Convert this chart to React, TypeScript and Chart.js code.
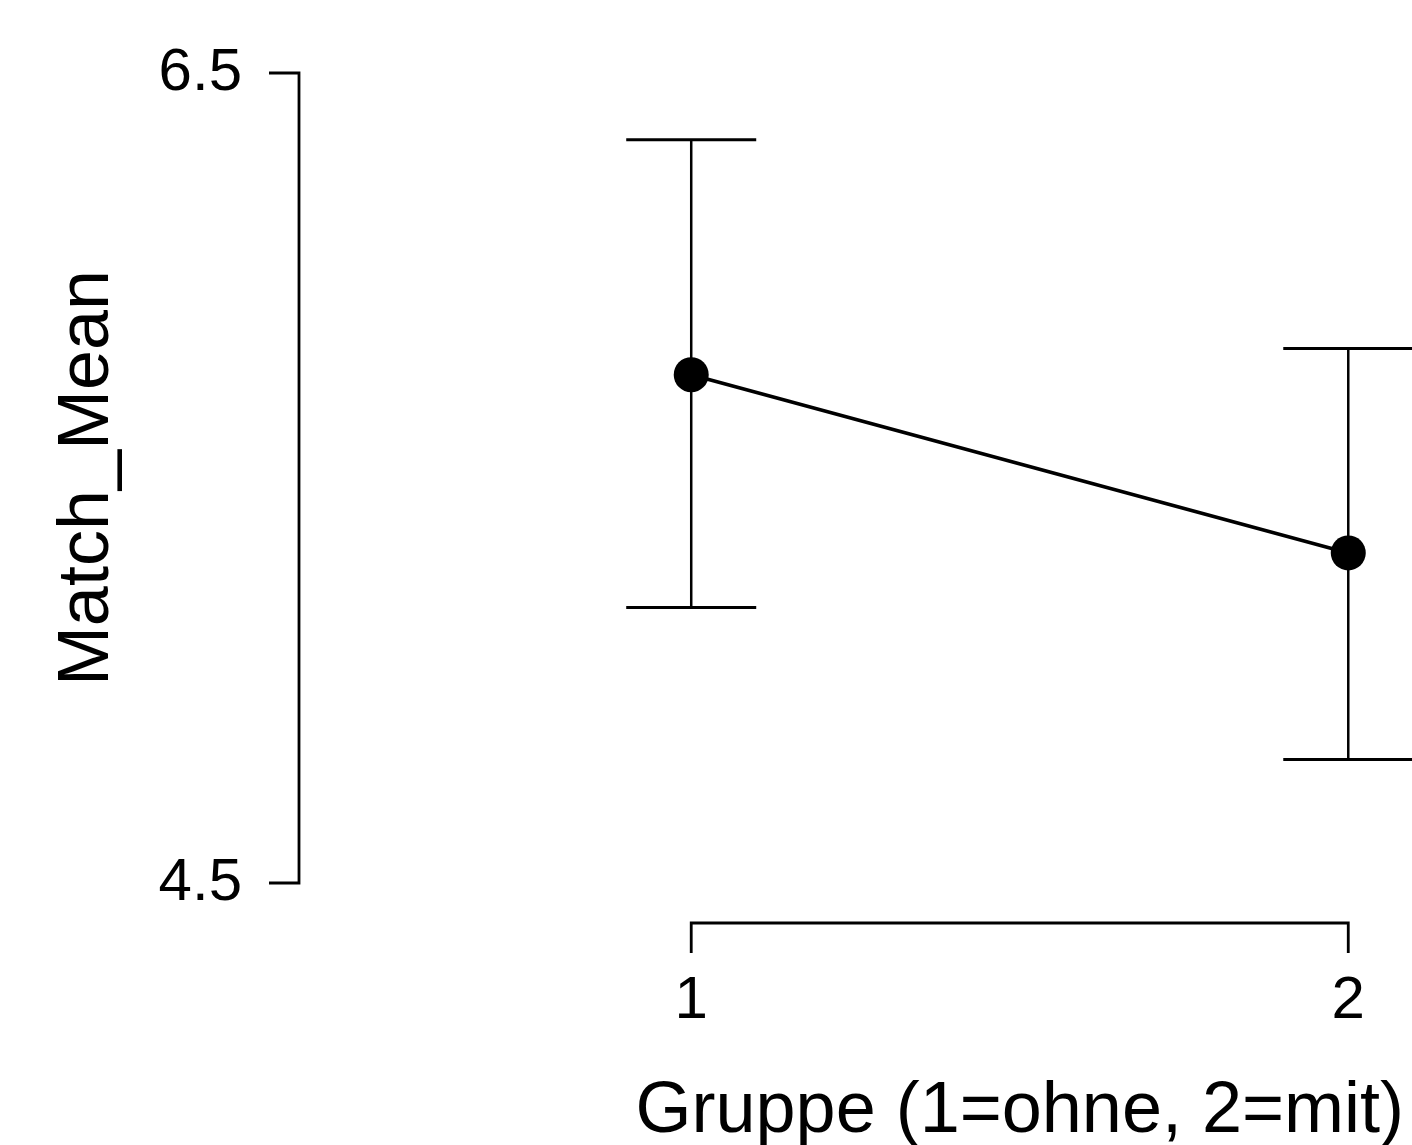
import React, { useEffect, useRef } from "react";
import { Chart, registerables } from "chart.js";

Chart.register(...registerables);

const groups = [1, 2];
const means = [5.755, 5.315];
const upper = [6.335, 5.82];
const lower = [5.18, 4.805];
const yTicks = [4.5, 6.5];
const xTickLabels = ["1", "2"];
const xTitle = "Gruppe (1=ohne, 2=mit)";
const yTitle = "Match_Mean";

const FONT = '"Liberation Sans", Arial, Helvetica, sans-serif';

const customPlugin = {
  id: "rStyle",
  beforeDatasetsDraw(chart: any) {
    const ctx = chart.ctx;
    const xs = chart.scales.x;
    const ys = chart.scales.y;
    ctx.save();
    ctx.strokeStyle = "#000";
    for (let i = 0; i < groups.length; i++) {
      const px = xs.getPixelForValue(groups[i]);
      const pt = ys.getPixelForValue(upper[i]);
      const pb = ys.getPixelForValue(lower[i]);
      ctx.lineWidth = 2.5;
      ctx.beginPath();
      ctx.moveTo(px, pt);
      ctx.lineTo(px, pb);
      ctx.stroke();
      ctx.lineWidth = 3;
      const hw = 65;
      ctx.beginPath();
      ctx.moveTo(px - hw, pt);
      ctx.lineTo(px + hw, pt);
      ctx.moveTo(px - hw, pb);
      ctx.lineTo(px + hw, pb);
      ctx.stroke();
    }
    ctx.restore();
  },
  afterDraw(chart: any) {
    const ctx = chart.ctx;
    const xs = chart.scales.x;
    const ys = chart.scales.y;
    ctx.save();
    ctx.strokeStyle = "#000";
    ctx.fillStyle = "#000";
    ctx.lineWidth = 2.8;
    // Y axis
    const axX = 299;
    const yTop = ys.getPixelForValue(yTicks[yTicks.length - 1]);
    const yBot = ys.getPixelForValue(yTicks[0]);
    ctx.beginPath();
    ctx.moveTo(axX - 30, yTop);
    ctx.lineTo(axX, yTop);
    ctx.lineTo(axX, yBot);
    ctx.lineTo(axX - 30, yBot);
    ctx.stroke();
    ctx.font = `60px ${FONT}`;
    ctx.textAlign = "right";
    ctx.textBaseline = "middle";
    for (const t of yTicks) {
      ctx.fillText(t.toFixed(1), 242, ys.getPixelForValue(t));
    }
    // X axis
    const axY = 923;
    const x1 = xs.getPixelForValue(groups[0]);
    const x2 = xs.getPixelForValue(groups[groups.length - 1]);
    ctx.beginPath();
    ctx.moveTo(x1, axY + 30);
    ctx.lineTo(x1, axY);
    ctx.lineTo(x2, axY);
    ctx.lineTo(x2, axY + 30);
    ctx.stroke();
    ctx.textAlign = "center";
    for (let i = 0; i < groups.length; i++) {
      ctx.fillText(xTickLabels[i], xs.getPixelForValue(groups[i]), 1001);
    }
    // Titles
    ctx.font = `72px ${FONT}`;
    ctx.fillText(xTitle, (x1 + x2) / 2, 1112);
    ctx.translate(88, (yTop + yBot) / 2);
    ctx.rotate(-Math.PI / 2);
    ctx.fillText(yTitle, 0, 0);
    ctx.restore();
  },
};

export default function App() {
  const ref = useRef<HTMLCanvasElement>(null);
  useEffect(() => {
    if (!ref.current) return;
    const chart = new Chart(ref.current, {
      type: "line",
      data: {
        datasets: [
          {
            data: groups.map((g, i) => ({ x: g, y: means[i] })),
            borderColor: "#000",
            backgroundColor: "#000",
            borderWidth: 3.6,
            pointRadius: 17.5,
            pointBackgroundColor: "#000",
            pointBorderWidth: 0,
            clip: false as any,
          },
        ],
      },
      options: {
        responsive: false,
        animation: false,
        layout: { autoPadding: false, padding: { left: 297, right: 0, top: 73, bottom: 1145 - 883 } } as any,
        plugins: { legend: { display: false }, tooltip: { enabled: false } },
        scales: {
          x: { type: "linear", min: 0.4, max: 2.097, display: false },
          y: { type: "linear", min: 4.5, max: 6.5, display: false },
        },
      },
      plugins: [customPlugin],
    });
    return () => chart.destroy();
  }, []);
  return (
    <div style={{ position: "fixed", left: 0, top: 0, width: 1412, height: 1145, background: "#fff" }}>
      <canvas ref={ref} width={1412} height={1145} style={{ width: 1412, height: 1145, display: "block" }} />
    </div>
  );
}
